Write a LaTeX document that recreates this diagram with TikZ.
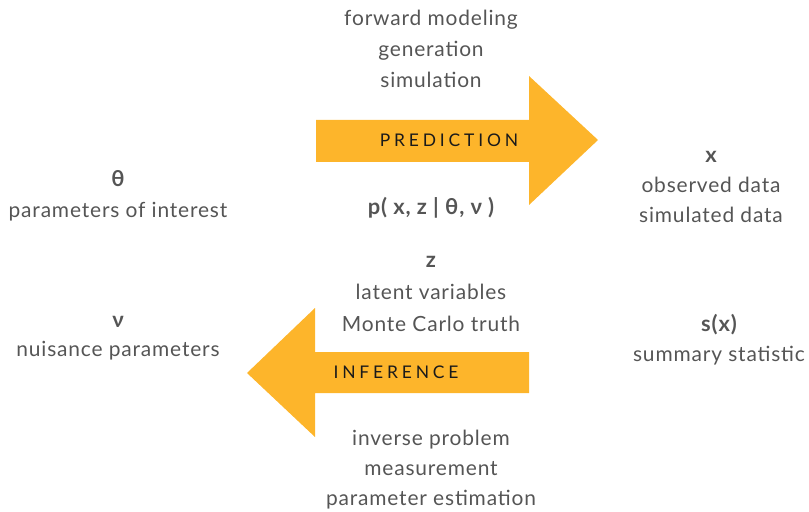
\documentclass[tikz,border=0pt]{standalone}
\usepackage{fontspec}
\setmainfont{Lato}[LetterSpace=4]
\newfontfamily\tagfont[LetterSpace=22]{Lato}
\usepackage{xcolor}
\usepackage{tikz}
\definecolor{arrowyellow}{HTML}{FDB52B}
\definecolor{txtgray}{HTML}{555555}
\definecolor{tagblack}{HTML}{1A1A1A}

\begin{document}
\begin{tikzpicture}[x=1bp,y=-1bp,
  txt/.style={text=txtgray,font=\fontsize{21}{24}\selectfont,inner sep=0pt,anchor=base},
  sym/.style={txt,font=\bfseries\fontsize{22}{24}\selectfont},
  tag/.style={text=tagblack,font=\tagfont\fontsize{17.5}{20}\selectfont,inner sep=0pt,anchor=base}]
\useasboundingbox (0,0) rectangle (809,512);
% the two big arrows
\fill[arrowyellow] (316,120)--(529,120)--(529,76)--(598,140)--(529,205)--(529,162)--(316,162)--cycle;
\fill[arrowyellow] (529,352)--(315,352)--(315,308)--(247,373)--(315,437)--(315,393)--(529,393)--cycle;
\node[tag] (pred) at (449,147) {PREDICTION};
\node[tag] (infer) at (396,378) {INFERENCE};
% forward direction
\node[txt] (fwd1) at (431,26) {forward modeling};
\node[txt] (fwd2) at (431,57) {generation};
\node[txt] (fwd3) at (431,88) {simulation};
\node[sym] (model) at (431,215) {p( x, z | θ, ν )};
% parameters
\node[sym] (theta) at (118,187) {θ};
\node[txt] (thetadesc) at (118,218) {parameters of interest};
\node[sym] (nu) at (118,327) {ν};
\node[txt] (nudesc) at (118,356) {nuisance parameters};
% data
\node[sym] (data) at (711,163) {x};
\node[txt] (data1) at (711,193) {observed data};
\node[txt] (data2) at (711,223) {simulated data};
\node[sym] (stat) at (719,331) {s(x)};
\node[txt] (statdesc) at (719,361) {summary statistic};
% latent
\node[sym] (latent) at (431,268) {z};
\node[txt] (latent1) at (431,300) {latent variables};
\node[txt] (latent2) at (431,331) {Monte Carlo truth};
% backward direction
\node[txt] (inv1) at (431,445) {inverse problem};
\node[txt] (inv2) at (431,475) {measurement};
\node[txt] (inv3) at (431,505) {parameter estimation};
\end{tikzpicture}
\end{document}
